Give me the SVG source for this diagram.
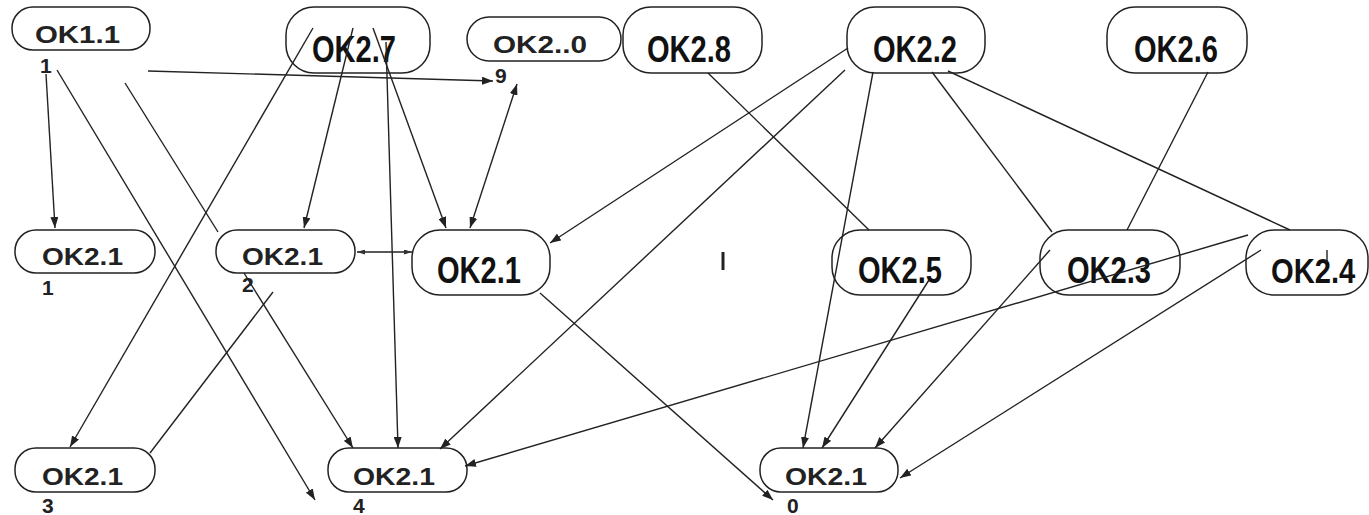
<svg xmlns="http://www.w3.org/2000/svg" width="1369" height="515" viewBox="0 0 1369 515">
<style>
.box{fill:#fff;stroke:#222;stroke-width:1.5}
.sm{font-family:"Liberation Sans",Arial,sans-serif;font-weight:bold;font-size:23px;fill:#222}
.bg{font-family:"Liberation Sans",Arial,sans-serif;font-weight:bold;font-size:36px;fill:#111}
.num{font-family:"Liberation Sans",Arial,sans-serif;font-weight:bold;font-size:21px;fill:#222}
.c line{stroke:#222;stroke-width:1.4;fill:none}
.a{marker-end:url(#ah)}
.b{marker-start:url(#ah);marker-end:url(#ah)}
.t{marker-start:url(#as);marker-end:url(#as)}
</style>
<defs>
<marker id="ah" markerUnits="userSpaceOnUse" markerWidth="11" markerHeight="8" refX="11" refY="4" orient="auto-start-reverse"><path d="M0,0 L11,4 L0,8 z" fill="#222"/></marker>
<marker id="as" markerUnits="userSpaceOnUse" markerWidth="8" markerHeight="5" refX="8" refY="2.5" orient="auto-start-reverse"><path d="M0,0 L8,2.5 L0,5 z" fill="#333"/></marker>
</defs>
<g id="n-ok11"><rect class="box" x="12" y="7" width="138" height="43" rx="21"/><text class="sm" x="35" y="43" textLength="85" lengthAdjust="spacingAndGlyphs">OK1.1</text><text class="num" x="40" y="73">1</text></g>
<g id="n-ok27"><rect class="box" x="286" y="7" width="144" height="66" rx="28"/><text class="bg" x="312" y="62" textLength="84" lengthAdjust="spacingAndGlyphs">OK2.7</text></g>
<g id="n-ok20"><rect class="box" x="467" y="17" width="154" height="44" rx="22"/><text class="sm" x="493" y="53" textLength="94" lengthAdjust="spacingAndGlyphs">OK2..0</text><text class="num" x="495" y="83">9</text></g>
<g id="n-ok28"><rect class="box" x="623" y="7" width="139" height="66" rx="28"/><text class="bg" x="647" y="62" textLength="84" lengthAdjust="spacingAndGlyphs">OK2.8</text></g>
<g id="n-ok22"><rect class="box" x="847" y="7" width="138" height="66" rx="28"/><text class="bg" x="873" y="62" textLength="84" lengthAdjust="spacingAndGlyphs">OK2.2</text></g>
<g id="n-ok26"><rect class="box" x="1107" y="7" width="140" height="66" rx="28"/><text class="bg" x="1134" y="62" textLength="84" lengthAdjust="spacingAndGlyphs">OK2.6</text></g>
<g id="n-ok211"><rect class="box" x="15" y="230" width="140" height="43" rx="21"/><text class="sm" x="42" y="265" textLength="81" lengthAdjust="spacingAndGlyphs">OK2.1</text><text class="num" x="42" y="295">1</text></g>
<g id="n-ok212"><rect class="box" x="216" y="230" width="139" height="43" rx="21"/><text class="sm" x="242" y="265" textLength="81" lengthAdjust="spacingAndGlyphs">OK2.1</text><text class="num" x="242" y="292">2</text></g>
<g id="n-ok21"><rect class="box" x="412" y="230" width="138" height="65" rx="28"/><text class="bg" x="437" y="283" textLength="84" lengthAdjust="spacingAndGlyphs">OK2.1</text></g>
<g id="n-ok25"><rect class="box" x="832" y="230" width="139" height="65" rx="28"/><text class="bg" x="858" y="283" textLength="84" lengthAdjust="spacingAndGlyphs">OK2.5</text></g>
<g id="n-ok23"><rect class="box" x="1040" y="230" width="140" height="65" rx="28"/><text class="bg" x="1067" y="283" textLength="84" lengthAdjust="spacingAndGlyphs">OK2.3</text></g>
<g id="n-ok24"><rect class="box" x="1246" y="230" width="122" height="65" rx="28"/><text class="bg" transform="translate(1271,283) scale(0.81,1)" x="0" y="0">OK2.4</text></g>
<g id="n-ok213"><rect class="box" x="15" y="448" width="140" height="44" rx="21"/><text class="sm" x="42" y="485" textLength="81" lengthAdjust="spacingAndGlyphs">OK2.1</text><text class="num" x="42" y="513">3</text></g>
<g id="n-ok214"><rect class="box" x="328" y="448" width="139" height="44" rx="21"/><text class="sm" x="353" y="485" textLength="82" lengthAdjust="spacingAndGlyphs">OK2.1</text><text class="num" x="353" y="513">4</text></g>
<g id="n-ok210"><rect class="box" x="760" y="448" width="138" height="44" rx="21"/><text class="sm" x="785" y="485" textLength="82" lengthAdjust="spacingAndGlyphs">OK2.1</text><text class="num" x="787" y="513">0</text></g>
<g id="connectors" class="c">
<line class="a" x1="46" y1="74" x2="55" y2="228"/>
<line class="a" x1="57" y1="70" x2="315" y2="500"/>
<line x1="125" y1="83" x2="218" y2="232"/>
<line class="a" x1="244" y1="273" x2="353" y2="448"/>
<line class="a" x1="148" y1="71" x2="493" y2="81"/>
<line class="a" x1="313" y1="28" x2="70" y2="447"/>
<line class="a" x1="353" y1="28" x2="304" y2="228"/>
<line class="a" x1="386" y1="42" x2="398" y2="448"/>
<line class="a" x1="373" y1="28" x2="446" y2="228"/>
<line class="b" x1="470" y1="228" x2="517" y2="84"/>
<line class="t" x1="357" y1="252" x2="412" y2="252"/>
<line x1="150" y1="453" x2="273" y2="292"/>
<line class="a" x1="848" y1="48" x2="550" y2="243"/>
<line class="a" x1="845" y1="70" x2="440" y2="449"/>
<line class="a" x1="873" y1="72" x2="803" y2="448"/>
<line x1="708" y1="73" x2="869" y2="230"/>
<line x1="932" y1="72" x2="1052" y2="232"/>
<line x1="948" y1="71" x2="1290" y2="230"/>
<line x1="1208" y1="72" x2="1127" y2="230"/>
<line class="a" x1="1248" y1="235" x2="465" y2="466"/>
<line class="a" x1="1261" y1="250" x2="900" y2="478"/>
<line class="a" x1="1050" y1="250" x2="875" y2="448"/>
<line class="a" x1="929" y1="280" x2="822" y2="448"/>
<line class="a" x1="540" y1="293" x2="773" y2="500"/>
<line x1="1327" y1="250" x2="1327" y2="262"/>
<line x1="723" y1="252" x2="723" y2="270" style="stroke-width:3"/>
</g>
</svg>
